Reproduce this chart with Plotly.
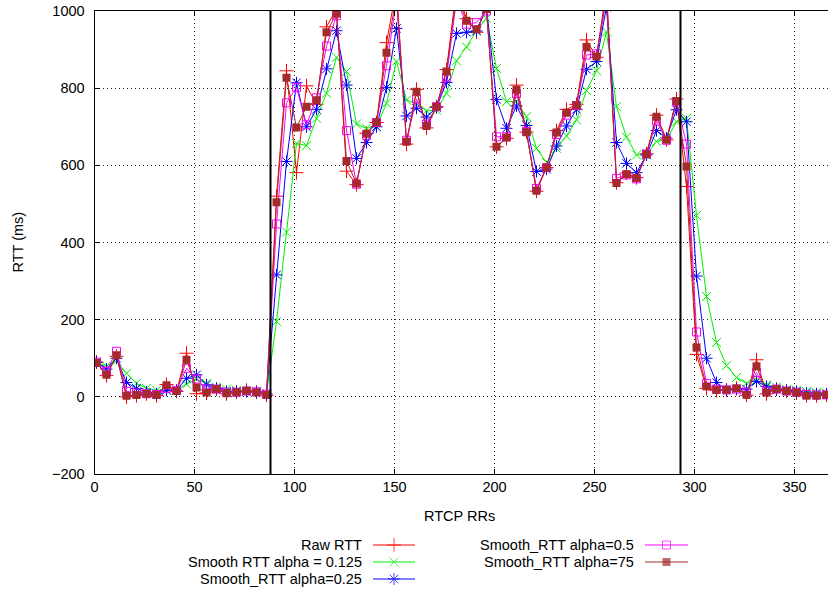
import plotly.graph_objects as go

# ---------------- data ----------------
rr_index = [1, 6, 11, 16, 21, 26, 31, 36, 41, 46, 51, 56, 61, 66, 71, 76, 81, 86,
            91, 96, 101, 106, 111, 116, 121, 126, 131, 136, 141, 146, 151, 156, 161, 166,
            171, 176, 181, 186, 191, 196, 201, 206, 211, 216, 221, 226, 231, 236, 241, 246,
            251, 256, 261, 266, 271, 276, 281, 286, 291, 296, 301, 306, 311, 316, 321, 326,
            331, 336, 341, 346, 351, 356, 361, 366]

raw_rtt = [90, 55, 105, 0, 3, 8, 3, 32, 14, 113, 8, 10, 20, 8, 12, 17, 12, 4,
           520, 845, 581, 806, 758, 959, 1005, 585, 550, 683, 711, 918, 1060, 655, 797, 697,
           752, 848, 1060, 980, 945, 1010,
           648, 670, 808, 686, 533, 594, 690, 745, 758, 925, 880, 1060, 555, 580, 568, 630,
           730, 666, 772, 545,
           110, 22, 17, 18, 22, 4, 96, 8, 20, 15, 10, 3, 3, 5]

smooth_0125 = [90, 80, 94, 61, 35, 22, 17, 17, 18, 33, 46, 35, 25, 20, 17, 15, 13, 8,
               195, 427, 657, 651, 722, 787, 880, 843, 707, 696, 700, 761, 870, 769, 759, 741,
               743, 787, 871, 907, 949, 981,
               851, 765, 765, 726, 644, 607, 644, 676, 718, 794, 845, 946, 752, 673, 627, 627,
               662, 666, 713, 722,
               470, 260, 141, 81, 50, 35, 44, 31, 25, 20, 17, 14, 12, 10]

smooth_025 = [90, 72, 100, 37, 22, 12, 8, 17, 17, 48, 57, 31, 22, 14, 14, 14, 13, 8,
              316, 610, 814, 700, 745, 850, 949, 808, 618, 659, 700, 802, 955, 728, 748, 725,
              750, 815, 942, 945, 948, 1008,
              771, 696, 754, 703, 584, 590, 650, 702, 745, 849, 869, 1010, 659, 605, 581, 627,
              690, 671, 744, 713,
              313, 100, 37, 18, 20, 20, 40, 27, 20, 17, 14, 10, 8, 7]

smooth_05 = [90, 66, 118, 14, 10, 8, 6, 22, 17, 74, 46, 20, 20, 12, 12, 15, 13, 7,
             448, 762, 802, 705, 775, 909, 988, 690, 551, 678, 711, 858, 1030, 665, 772, 707,
             752, 828, 1030, 966, 970, 1000,
             674, 674, 786, 688, 540, 594, 680, 730, 755, 886, 889, 1030, 566, 575, 565, 630,
             715, 665, 765, 655,
             168, 35, 20, 18, 20, 12, 63, 15, 20, 15, 12, 6, 5, 5]

smooth_75 = [88, 57, 108, 3, 5, 8, 5, 30, 15, 96, 24, 11, 20, 9, 12, 16, 12, 5,
             504, 827, 698, 752, 769, 945, 993, 611, 553, 682, 711, 892, 1040, 661, 791, 702,
             752, 843, 1040, 975, 953, 1005,
             648, 672, 796, 686, 534, 594, 685, 736, 756, 907, 882, 1040, 554, 577, 567, 629,
             726, 666, 767, 597,
             128, 27, 18, 18, 22, 5, 79, 11, 20, 15, 11, 3, 3, 5]

event_x = [88, 293]

series_names = ["Raw RTT", "Smooth RTT alpha = 0.125", "Smooth_RTT alpha=0.25",
                "Smooth_RTT alpha=0.5", "Smooth_RTT alpha=75"]
series_values = [raw_rtt, smooth_0125, smooth_025, smooth_05, smooth_75]

x_ticks = [0, 50, 100, 150, 200, 250, 300, 350]
y_ticks = [-200, 0, 200, 400, 600, 800, 1000]

# ---------------- styles ----------------
W, H = 828, 592
PL, PT, PB = 94.5, 11, 474
FONT = "Liberation Sans, Arial, Helvetica, sans-serif"
FS = 14.5

styles = [
    dict(color="#ff0000", symbol="cross-thin", size=10),
    dict(color="#00ee00", symbol="x-thin", size=9),
    dict(color="#0000ff", symbol="asterisk", size=10),
    dict(color="#ff00ff", symbol="square-open", size=8),
    dict(color="#a52a2a", symbol="square", size=8),
]

fig = go.Figure()

for name, vals, st in zip(series_names, series_values, styles):
    fig.add_trace(go.Scatter(
        x=rr_index, y=vals, mode="lines+markers", name=name,
        line=dict(color=st["color"], width=1),
        marker=dict(symbol=st["symbol"], size=st["size"], color=st["color"],
                    line=dict(color=st["color"], width=1 if st["symbol"] != "square" else 0)),
        showlegend=False, xaxis="x", yaxis="y",
    ))

for ex in event_x:
    fig.add_shape(type="line", xref="x", yref="y", x0=ex, x1=ex, y0=-200, y1=1000,
                  line=dict(color="black", width=2))

# ---------------- manual gnuplot-style key (on a full-page helper axis pair) ----------------
key_rows = [545, 562, 579]
key_cols = [(364, 373, 415), (636, 645, 688)]
slots = [(0, 0), (0, 1), (0, 2), (1, 0), (1, 1)]
for (ci, ri), name, st in zip(slots, series_names, styles):
    tx, lx0, lx1 = key_cols[ci]
    yy = key_rows[ri]
    fig.add_trace(go.Scatter(
        x=[lx0, (lx0 + lx1) / 2, lx1], y=[yy, yy, yy], mode="lines+markers",
        line=dict(color=st["color"], width=1),
        marker=dict(symbol=st["symbol"], size=[0, st["size"], 0], color=st["color"],
                    line=dict(color=st["color"], width=1 if st["symbol"] != "square" else 0)),
        showlegend=False, xaxis="x2", yaxis="y2", hoverinfo="skip",
    ))
    fig.add_annotation(x=tx, y=yy, xref="x2", yref="y2", text=name, showarrow=False,
                       xanchor="right", yanchor="middle",
                       font=dict(family=FONT, size=FS, color="black"))

# axis titles
fig.add_annotation(x=(PL + W) / 2 - 2, y=516, xref="x2", yref="y2", text="RTCP RRs",
                   showarrow=False, xanchor="center", yanchor="middle",
                   font=dict(family=FONT, size=FS, color="black"))
fig.add_annotation(x=17, y=(PT + PB) / 2, xref="x2", yref="y2", text="RTT (ms)",
                   showarrow=False, textangle=-90, xanchor="center", yanchor="middle",
                   font=dict(family=FONT, size=FS, color="black"))

fig.update_layout(
    width=W, height=H,
    margin=dict(l=0, r=0, t=0, b=0, pad=0),
    paper_bgcolor="white", plot_bgcolor="rgba(0,0,0,0)",
    font=dict(family=FONT, size=FS, color="black"),
    showlegend=False,
    xaxis=dict(domain=[PL / W, 1], range=[0, (W - PL) / 2], tickvals=x_ticks,
               ticks="inside", ticklen=5, tickcolor="black", showline=True,
               linecolor="black", linewidth=1, mirror="ticks", showgrid=True,
               gridcolor="#222222", griddash="1px,3px", gridwidth=1, zeroline=False,
               automargin=False, tickfont=dict(family=FONT, size=FS), anchor="y"),
    yaxis=dict(domain=[(H - PB) / H, (H - PT) / H], range=[-200, 1000], tickvals=y_ticks,
               ticks="inside", ticklen=5, tickcolor="black", showline=True,
               linecolor="black", linewidth=1, mirror=False, showgrid=True,
               gridcolor="#222222", griddash="1px,3px", gridwidth=1, zeroline=False,
               automargin=False, tickfont=dict(family=FONT, size=FS), ticklabelstandoff=6,
               anchor="x"),
    xaxis2=dict(domain=[0, 1], range=[0, W], visible=False, anchor="y2", fixedrange=True),
    yaxis2=dict(domain=[0, 1], range=[H, 0], visible=False, anchor="x2", fixedrange=True),
)

fig.write_html("out.html")
